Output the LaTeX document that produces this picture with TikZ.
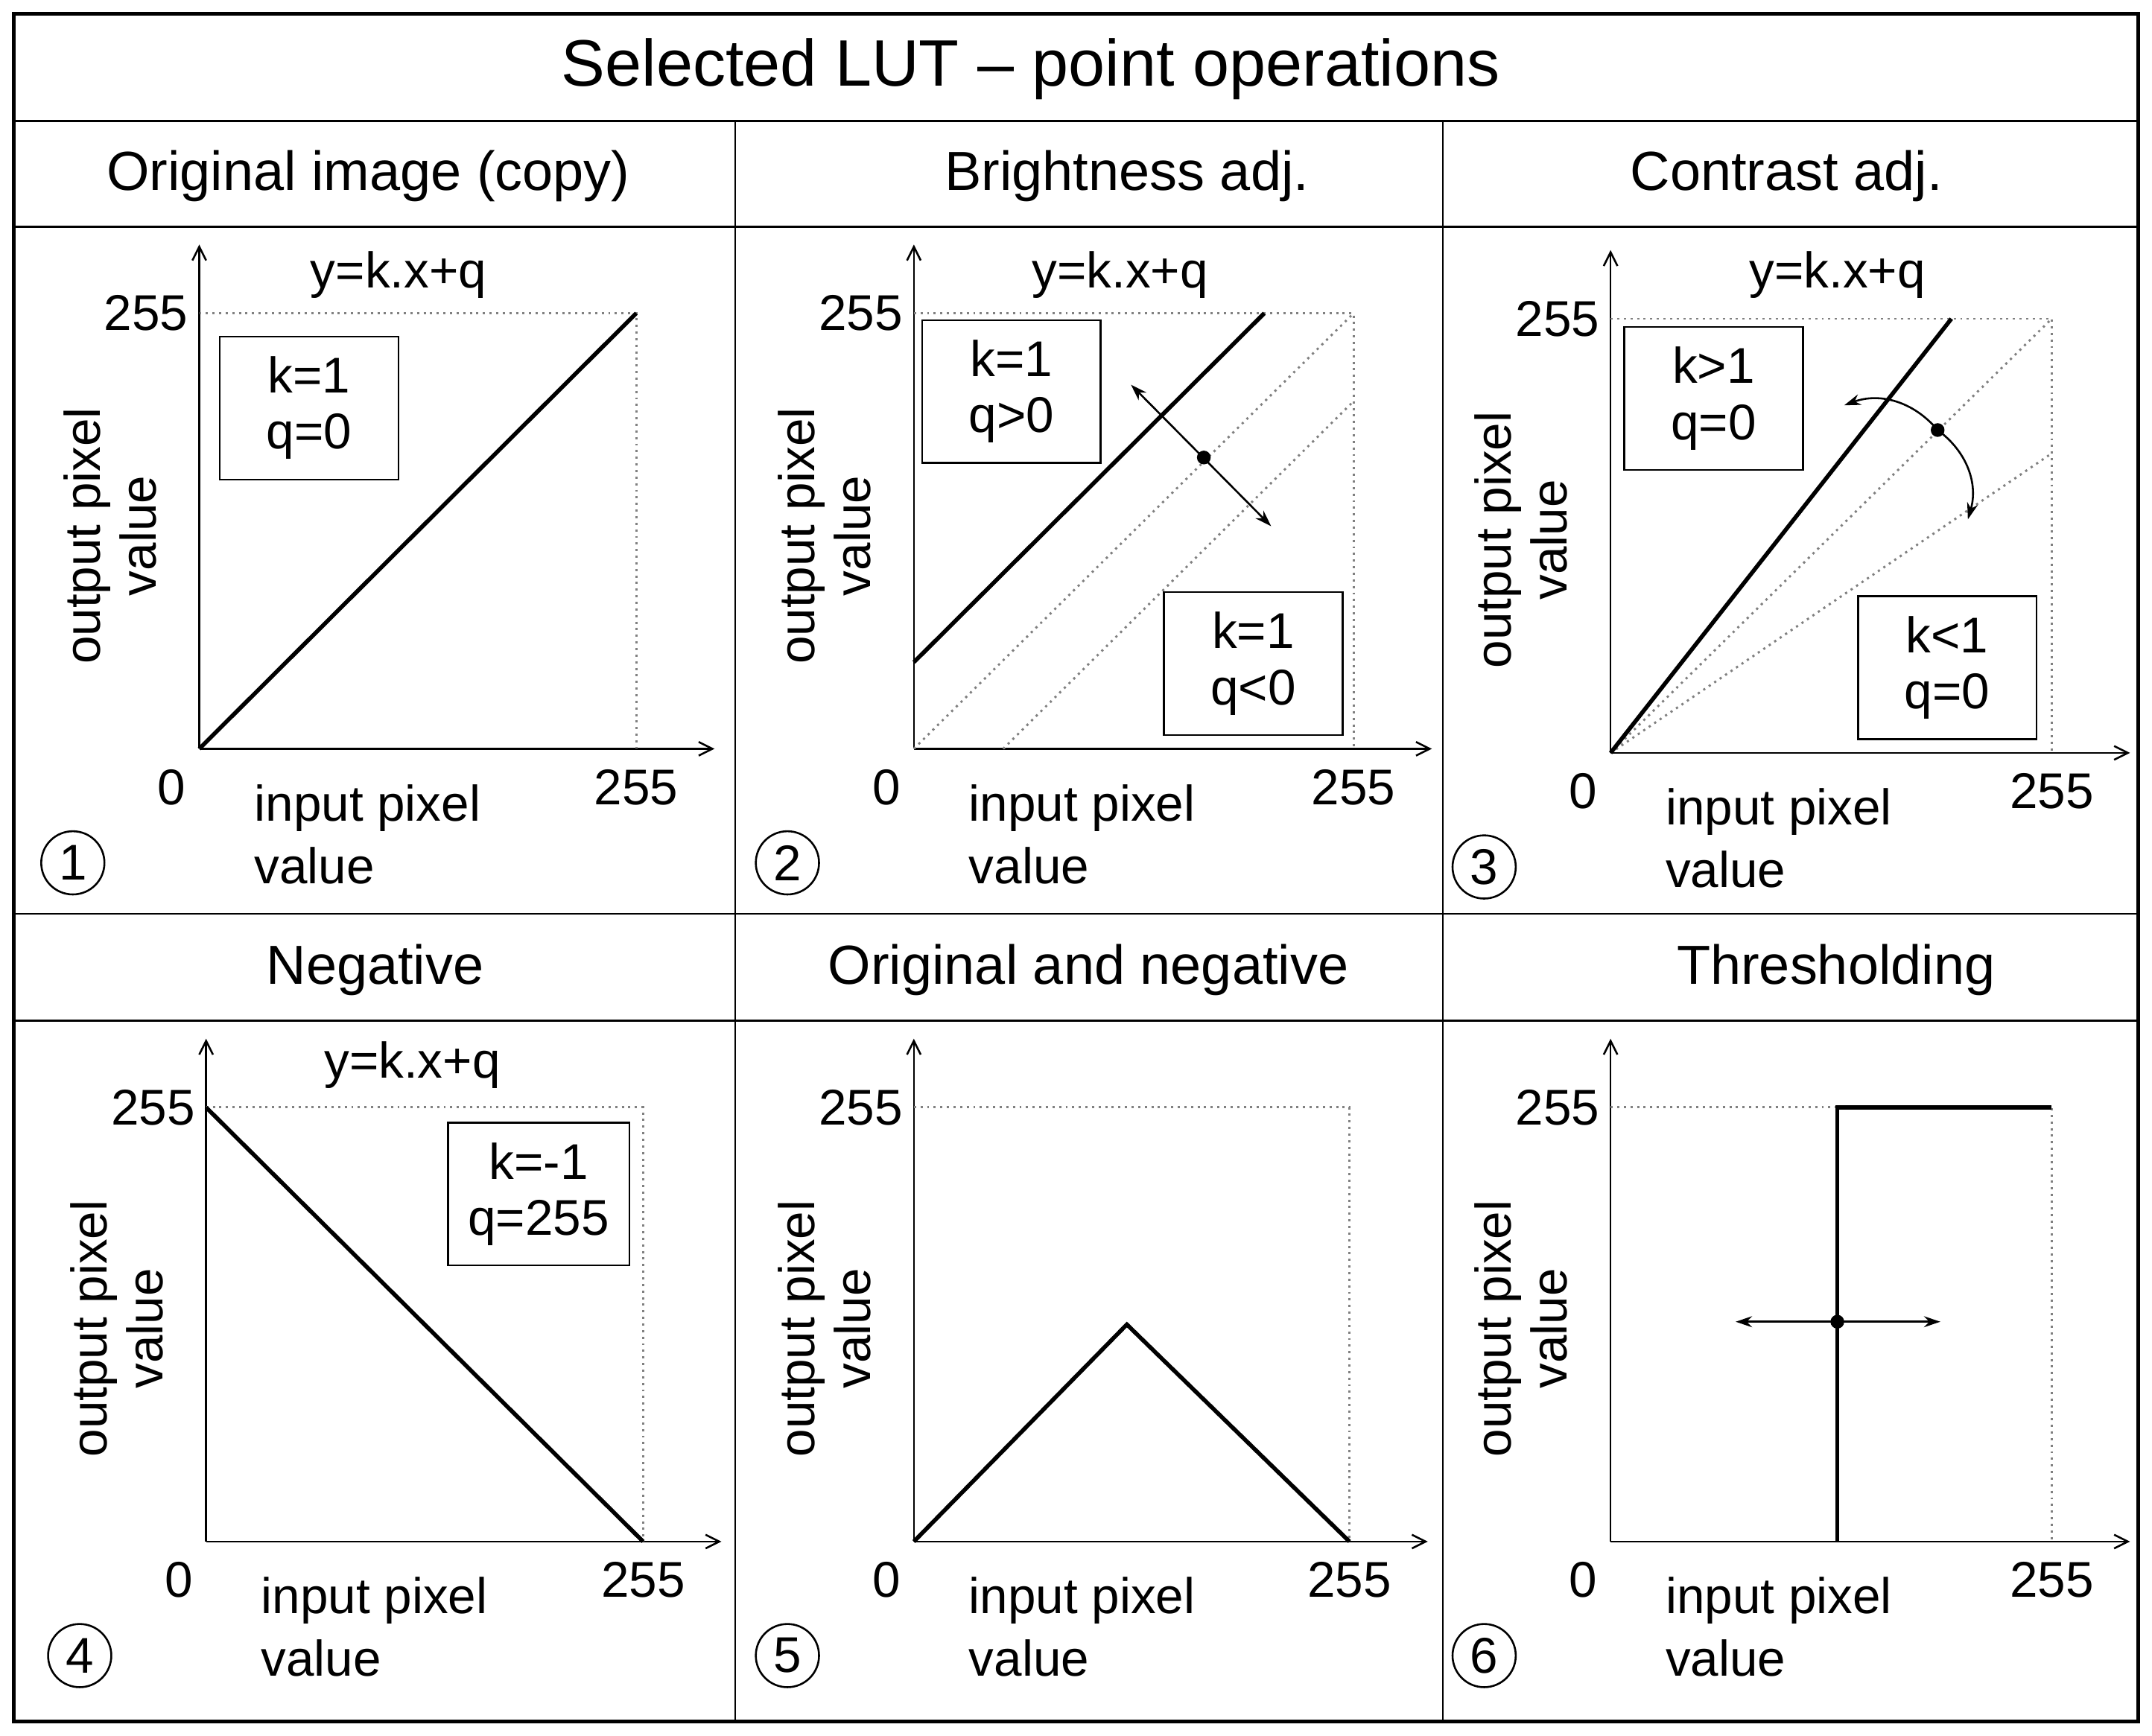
\documentclass[tikz,border=0pt]{standalone}
\usepackage{fontspec}
\setmainfont{Liberation Sans}
\usetikzlibrary{arrows.meta}
\begin{document}
\begin{tikzpicture}[x=0.5mm,y=-0.5mm,
  txt/.style={font=\fontsize{52}{58}\selectfont,inner sep=0pt},
  hd/.style={font=\fontsize{57}{64}\selectfont,inner sep=0pt},
  ax/.style={line width=0.7mm,->,>={Straight Barb[length=5mm,width=5mm]}},
  dot/.style={gray,dash pattern=on 0.8mm off 1.6mm,line width=0.8mm},
  curve/.style={line width=1.5mm},
  bx/.style={draw,line width=0.7mm,font=\fontsize{52}{58}\selectfont,align=center,minimum width=65mm,minimum height=52mm,inner sep=0pt},
  darr/.style={line width=0.7mm,<->,>={Stealth[length=6mm,width=4mm]}}]
\useasboundingbox (0,0) rectangle (1566,1263);
\fill[white] (0,0) rectangle (1566,1263);
\draw[line width=1.3mm] (10,10) rectangle (1556,1253);
\draw[line width=0.7mm] (10,88)--(1556,88) (10,165)--(1556,165) (10,665)--(1556,665) (10,743)--(1556,743)
  (535,88)--(535,1253) (1050,88)--(1050,1253);
\node[hd,font=\fontsize{68}{74}\selectfont] (title) at (750,50) {Selected LUT -- point operations};
\node[hd] (h1) at (268,128) {Original image (copy)};
\node[hd] (h2) at (820,128) {Brightness adj.};
\node[hd] (h3) at (1300,128) {Contrast adj.};
\node[hd] (h4) at (273,706) {Negative};
\node[hd] (h5) at (792,706) {Original and negative};
\node[hd] (h6) at (1336,706) {Thresholding};
\newcommand\mypanel[5]{%
  \draw[ax] (#1,#2)--(#3+57,#2);
  \draw[ax] (#1,#2)--(#1,#4-50);
  \draw[dot] (#1,#4)--(#3,#4)--(#3,#2);
  \node[txt,anchor=east] at (#1-8,#4) {255};
  \node[txt] at (#1-20,#2+28) {0};
  \node[txt] at (#3,#2+28) {255};
  \node[txt,anchor=west] at (#1+40,#2+43) {input pixel};
  \node[txt,anchor=west] at (#1+40,#2+85) {value};
  \node[txt,rotate=90,align=center] at (#1-65,#2-155) {output pixel\\value};
  \draw[line width=0.7mm] (#1-92,#2+83) circle (23);
  \node[txt] at (#1-92,#2+83) {#5};
}
\mypanel{145}{545}{463}{228}{1}
\mypanel{665}{545}{985}{228}{2}
\mypanel{1172}{548}{1493}{232}{3}
\mypanel{150}{1122}{468}{806}{4}
\mypanel{665}{1122}{982}{806}{5}
\mypanel{1172}{1122}{1493}{806}{6}
% panel 1
\node[txt] at (290,200) {y=k.x+q};
\draw[curve] (145,545)--(463,228);
\node[bx] (b1) at (225,297) {k=1\\q=0};
% panel 2
\node[txt] at (815,200) {y=k.x+q};
\draw[dot] (665,545)--(985,228) (730,545)--(985,292);
\draw[curve] (665,482)--(920,228);
\node[bx,fill=white] (b2) at (736,285) {k=1\\q>0};
\node[bx] (b3) at (912,483) {k=1\\q<0};
\coordinate (d2) at (876,333);
\draw[darr] (823,280)--(925,383);
\fill (d2) circle (5);
% panel 3
\node[txt] at (1337,200) {y=k.x+q};
\draw[dot] (1172,548)--(1493,232) (1172,548)--(1493,330);
\draw[curve] (1172,548)--(1420,232);
\node[bx,fill=white] (b4) at (1247,290) {k>1\\q=0};
\node[bx] (b5) at (1417,486) {k<1\\q=0};
\coordinate (d3) at (1410,313);
\draw[line width=0.7mm,->,>={Stealth[length=6mm,width=4mm]}] (d3) to[bend right=35] (1342,295);
\draw[line width=0.7mm,->,>={Stealth[length=6mm,width=4mm]}] (d3) to[bend left=35] (1432,378);
\fill (d3) circle (5);
% panel 4
\node[txt] at (300,775) {y=k.x+q};
\draw[curve] (150,806)--(468,1122);
\node[bx,fill=white,minimum width=66mm] (b6) at (392,869) {k=-1\\q=255};
% panel 5
\draw[curve] (665,1122)--(820,964)--(982,1122);
% panel 6
\draw[curve] (1337,1122)--(1337,806)--(1493,806);
\coordinate (d6) at (1337,962);
\draw[darr] (1263,962)--(1412,962);
\fill (d6) circle (5);
\end{tikzpicture}
\end{document}
